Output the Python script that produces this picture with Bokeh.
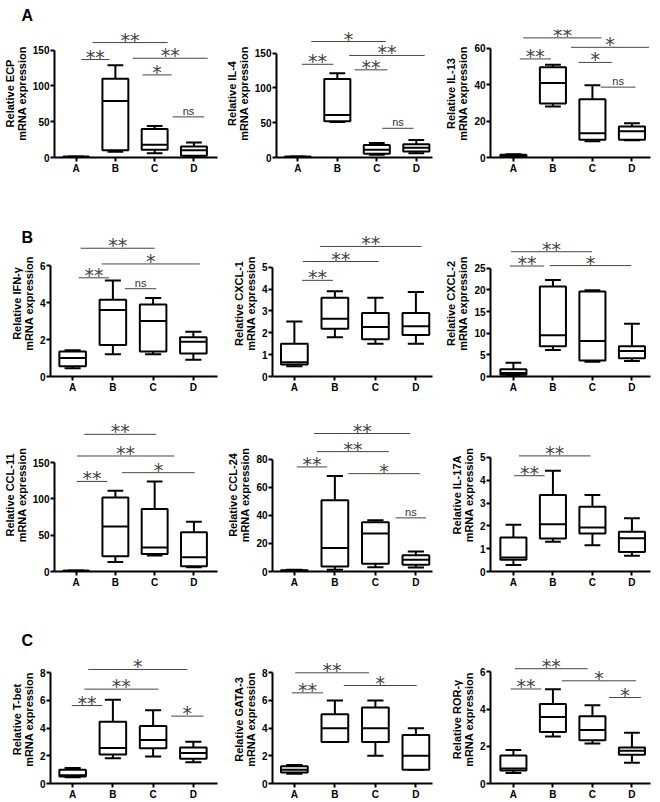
import numpy as np
from bokeh.plotting import figure
from bokeh.models import Range1d, FixedTicker, Title
from bokeh.layouts import column, row
from bokeh.embed import file_html
from bokeh.resources import INLINE
from bokeh.core.properties import value

GROUPS = ["A", "B", "C", "D"]

# Box statistics per panel (groups A-D): whisker low, Q1, median, Q3, whisker high
ecp = dict(lo=[0.5, 8, 6, 1], q1=[0.8, 10, 11, 2.5], med=[1, 79, 18, 10], q3=[1.2, 110, 40, 15.5], hi=[1.5, 129, 44, 21])
il4 = dict(lo=[0.5, 51, 4, 6], q1=[0.8, 52, 5.5, 8.5], med=[1, 61, 11, 14], q3=[1.2, 113, 18, 19], hi=[1.5, 121, 21, 25])
il13 = dict(lo=[0.3, 28, 9, 9.5], q1=[0.5, 29.7, 9.8, 9.8], med=[1, 41, 13.4, 14.5], q3=[1.5, 49.7, 32, 17], hi=[1.8, 51, 39.8, 18.8])
ifng = dict(lo=[0.45, 1.2, 1.2, 0.9], q1=[0.55, 1.7, 1.35, 1.25], med=[1.0, 3.6, 3.0, 1.88], q3=[1.35, 4.15, 3.9, 2.12], hi=[1.42, 5.2, 4.25, 2.42])
cxcl1 = dict(lo=[0.47, 1.8, 1.5, 1.5], q1=[0.55, 2.18, 1.7, 1.9], med=[0.65, 2.64, 2.27, 2.3], q3=[1.5, 3.6, 2.9, 2.9], hi=[2.52, 3.9, 3.6, 3.87])
cxcl2 = dict(lo=[0.2, 6.1, 3.4, 3.6], q1=[0.4, 7.0, 3.7, 4.2], med=[0.8, 9.5, 8.2, 5.9], q3=[1.7, 20.8, 19.6, 7.0], hi=[3.2, 22.3, 19.9, 12.2])
ccl11 = dict(lo=[0.5, 13, 22, 6], q1=[0.8, 21, 24, 7.3], med=[1, 62, 33, 19.7], q3=[1.2, 102, 86, 54], hi=[1.5, 111, 124, 68.6])
ccl24 = dict(lo=[0.2, 1.2, 3, 2.9], q1=[0.4, 3.6, 5.5, 4.8], med=[0.6, 16.7, 27, 8.4], q3=[0.9, 50.8, 35, 11.5], hi=[1.2, 68, 36.5, 14.3])
il17a = dict(lo=[0.29, 1.3, 1.15, 0.69], q1=[0.51, 1.45, 1.67, 0.86], med=[0.61, 2.07, 1.93, 1.46], q3=[1.49, 3.36, 2.84, 1.74], hi=[2.05, 4.42, 3.35, 2.34])
tbet = dict(lo=[0.45, 1.83, 1.95, 1.54], q1=[0.5, 2.09, 2.54, 1.78], med=[0.6, 2.57, 3.14, 2.21], q3=[1.0, 4.47, 4.16, 2.61], hi=[1.12, 6.06, 5.3, 3.02])
gata3 = dict(lo=[0.7, 3.0, 2.0, 1.0], q1=[0.8, 3.0, 3.0, 1.0], med=[1.0, 4.0, 4.0, 2.0], q3=[1.25, 5.0, 5.5, 3.5], hi=[1.33, 6.0, 6.0, 4.0])
rorg = dict(lo=[0.56, 2.52, 2.15, 1.11], q1=[0.7, 2.77, 2.33, 1.55], med=[0.8, 3.58, 2.87, 1.76], q3=[1.5, 4.27, 3.62, 1.94], hi=[1.8, 5.06, 4.2, 2.73])

# Significance brackets: (from, to, height, label)
ecp_sig = [(0.13, 0.85, 137, "**"), (0.42, 2.33, 160.7, "**"), (1.44, 3.35, 138.8, "**"), (1.69, 2.43, 115.5, "*"), (2.46, 3.26, 56.8, "ns")]
il4_sig = [(0.10, 0.90, 134, "**"), (0.34, 2.23, 166.7, "*"), (1.30, 3.21, 146.7, "**"), (1.44, 2.27, 126, "**"), (2.14, 2.93, 42, "ns")]
il13_sig = [(0.16, 0.95, 54.2, "**"), (0.25, 2.23, 65.8, "**"), (1.46, 3.43, 60.6, "*"), (1.65, 2.49, 52.3, "*"), (2.21, 3.09, 38.7, "ns")]
ifng_sig = [(0.15, 0.91, 5.34, "**"), (0.2, 2.04, 6.94, "**"), (0.72, 3.16, 6.09, "*"), (1.30, 2.08, 4.75, "ns")]
cxcl1_sig = [(0.19, 0.95, 4.4, "**"), (0.21, 2.08, 5.26, "**"), (0.63, 3.14, 5.95, "**")]
cxcl2_sig = [(-0.09, 0.78, 25.5, "**"), (-0.06, 1.99, 28.8, "**"), (0.92, 2.98, 25.6, "*")]
ccl11_sig = [(0.02, 0.79, 124, "**"), (0.21, 2.04, 188.8, "**"), (0.02, 2.5, 159, "**"), (1.17, 3.02, 136, "*")]
ccl24_sig = [(0.06, 0.81, 74.5, "**"), (0.49, 2.86, 98.3, "**"), (0.56, 2.33, 85.4, "**"), (1.33, 3.1, 69.7, "*"), (2.5, 3.25, 38.2, "ns")]
il17a_sig = [(0.02, 0.79, 4.2, "**"), (0.14, 1.95, 5.07, "**")]
tbet_sig = [(-0.02, 0.74, 5.63, "**"), (0.39, 2.85, 8.24, "*"), (0.29, 2.13, 6.82, "**"), (2.45, 3.25, 4.87, "*")]
gata3_sig = [(-0.06, 0.71, 6.55, "**"), (0.02, 1.84, 8.0, "**"), (1.22, 3.02, 7.08, "*")]
rorg_sig = [(-0.07, 0.71, 5.08, "**"), (0.04, 1.88, 6.17, "**"), (1.23, 3.1, 5.52, "*"), (2.42, 3.23, 4.62, "*")]

# Layout geometry
COL_W = [222, 216, 222]
ROW_H = [185, 210, 205, 202]
BL = [50, 50, 52]
BR = [5, 6, 10]
BT = [29, 45, 23, 55]
BB = [28, 18, 29, 18]
XR = [(-0.55, 3.6), (-0.54, 3.41), (-0.58, 3.47)]

FONT = "Liberation Sans"
# panel letter: (horizontal offset, standoff, vertical alignment)
LETTER = {"A": (-33, 8, "top"), "B": (-29, -30, "bottom"), "C": (-29, 14, "bottom")}


def panel(stats, sig, ylabel, yticks, y_end, col, rw, letter=None):
    p = figure(width=COL_W[col], height=ROW_H[rw],
               x_range=Range1d(*XR[col]), y_range=Range1d(0, y_end),
               output_backend="svg", toolbar_location=None,
               min_border_left=BL[col], min_border_right=BR[col],
               min_border_top=BT[rw], min_border_bottom=BB[rw])
    p.outline_line_color = None
    p.xgrid.visible = False
    p.ygrid.visible = False
    p.background_fill_color = "white"
    p.border_fill_color = "white"

    x = np.arange(len(GROUPS), dtype=float)
    bw, cw = 0.66, 0.4
    lo, q1, med, q3, hi = (np.array(stats[k], dtype=float) for k in ("lo", "q1", "med", "q3", "hi"))
    kw = dict(line_color="black", line_width=2)
    p.segment(x, q3, x, hi, **kw)
    p.segment(x, lo, x, q1, **kw)
    p.segment(x - cw / 2, hi, x + cw / 2, hi, **kw)
    p.segment(x - cw / 2, lo, x + cw / 2, lo, **kw)
    p.quad(left=x - bw / 2, right=x + bw / 2, bottom=q1, top=q3,
           fill_color="white", line_color="black", line_width=2)
    p.segment(x - bw / 2, med, x + bw / 2, med, **kw)

    # significance brackets
    x0 = [s[0] for s in sig]
    x1 = [s[1] for s in sig]
    ys = [s[2] for s in sig]
    p.segment(x0, ys, x1, ys, line_color="#444444", line_width=1)
    st = [s for s in sig if s[3] != "ns"]
    ns = [s for s in sig if s[3] == "ns"]
    if st:
        p.text(x=[(s[0] + s[1]) / 2 for s in st], y=[s[2] for s in st], text=[s[3] for s in st],
               text_font=value("DejaVu Sans"), text_font_size="19px", text_align="center",
               text_baseline="alphabetic", y_offset=-3, text_color="#444444")
    if ns:
        p.text(x=[(s[0] + s[1]) / 2 for s in ns], y=[s[2] for s in ns], text=[s[3] for s in ns],
               text_font=value(FONT), text_font_size="11px", text_align="center",
               text_baseline="alphabetic", y_offset=-6, text_color="#333333")

    xa = p.xaxis[0]
    xa.ticker = FixedTicker(ticks=list(range(len(GROUPS))))
    xa.major_label_overrides = {i: g for i, g in enumerate(GROUPS)}
    xa.major_label_standoff = 1
    ya = p.yaxis[0]
    ya.ticker = FixedTicker(ticks=yticks)
    ya.bounds = (0, yticks[-1])
    ya.axis_label = ylabel
    ya.major_label_standoff = 1
    ya.axis_label_standoff = 2
    ya.axis_label_text_font = FONT
    ya.axis_label_text_font_style = "bold"
    ya.axis_label_text_font_size = "11px"
    ya.axis_label_text_line_height = 1.0
    ya.axis_label_text_color = "black"
    for a in (xa, ya):
        a.axis_line_width = 2
        a.axis_line_color = "black"
        a.major_tick_line_width = 2
        a.major_tick_line_color = "black"
        a.major_tick_out = 4
        a.major_tick_in = 0
        a.minor_tick_out = 0
        a.minor_tick_in = 0
        a.major_label_text_font = FONT
        a.major_label_text_font_style = "bold"
        a.major_label_text_font_size = "10px"
        a.major_label_text_color = "black"

    if letter:
        off, so, va = LETTER[letter]
        p.add_layout(Title(text=letter, align="left", offset=off, standoff=so, vertical_align=va,
                           text_font=FONT, text_font_style="bold", text_font_size="16px",
                           text_color="black"), "above")
    return p


ML = "\nmRNA expression"
r1 = row(panel(ecp, ecp_sig, "Relative ECP" + ML, [0, 50, 100, 150], 179, 0, 0, "A"),
         panel(il4, il4_sig, "Relative IL-4" + ML, [0, 50, 100, 150], 184, 1, 0),
         panel(il13, il13_sig, "Relative IL-13" + ML, [0, 20, 40, 60], 70.4, 2, 0))
r2 = row(panel(ifng, ifng_sig, "Relative IFN-\u03b3" + ML, [0, 2, 4, 6], 7.9, 0, 1, "B"),
         panel(cxcl1, cxcl1_sig, "Relative CXCL-1" + ML, [0, 1, 2, 3, 4, 5], 6.68, 1, 1),
         panel(cxcl2, cxcl2_sig, "Relative CXCL-2" + ML, [0, 5, 10, 15, 20, 25], 33.7, 2, 1))
r3 = row(panel(ccl11, ccl11_sig, "Relative CCL-11" + ML, [0, 50, 100, 150], 210.6, 0, 2),
         panel(ccl24, ccl24_sig, "Relative CCL-24" + ML, [0, 20, 40, 60, 80], 109, 1, 2),
         panel(il17a, il17a_sig, "Relative IL-17A" + ML, [0, 1, 2, 3, 4, 5], 6.71, 2, 2))
r4 = row(panel(tbet, tbet_sig, "Relative T-bet" + ML, [0, 2, 4, 6, 8], 9.25, 0, 3, "C"),
         panel(gata3, gata3_sig, "Relative GATA-3" + ML, [0, 2, 4, 6, 8], 9.25, 1, 3),
         panel(rorg, rorg_sig, "Relative ROR-\u03b3" + ML, [0, 2, 4, 6], 6.88, 2, 3))

layout = column(r1, r2, r3, r4)
open("out.html", "w").write(file_html(layout, INLINE, title="Relative mRNA expression"))
